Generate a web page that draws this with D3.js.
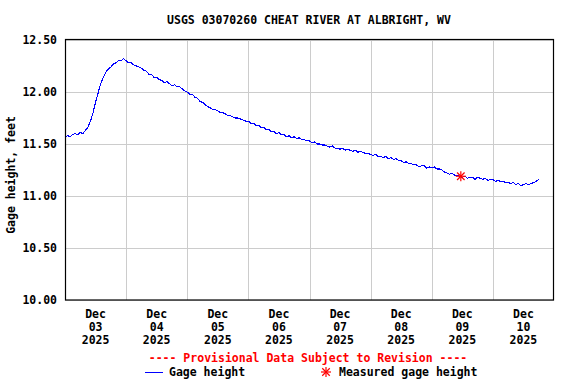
<!DOCTYPE html>
<html>
<head>
<meta charset="utf-8">
<script src="https://cdn.jsdelivr.net/npm/d3@7"></script>
<style>
	body { margin: 0; background: #fff; }
	text { font-family: "DejaVu Sans Mono", monospace; font-weight: bold; }
</style>
</head>
<body>
<script>
var chartTitle = "USGS 03070260 CHEAT RIVER AT ALBRIGHT, WV";
var yLabel = "Gage height, feet";
var yTicks = [10.0, 10.5, 11.0, 11.5, 12.0, 12.5];
var dayLabels = ["03", "04", "05", "06", "07", "08", "09", "10"];

// hourly gage height readings (ft), starting Dec 03 00:00
var gageDec03 = [11.56,11.58,11.57,11.59,11.60,11.59,11.61,11.60,11.63,11.66,11.72,11.80,11.90,11.99,12.08,12.14,12.19,12.22,12.24,12.27,12.28,12.30,12.30,12.32];
var gageDec04 = [12.30,12.28,12.28,12.26,12.25,12.24,12.23,12.21,12.20,12.17,12.17,12.14,12.14,12.12,12.11,12.09,12.10,12.08,12.06,12.07,12.05,12.05,12.03,12.01];
var gageDec05 = [12.00,11.98,11.98,11.95,11.94,11.91,11.90,11.88,11.86,11.85,11.83,11.83,11.82,11.80,11.80,11.79,11.77,11.77,11.76,11.75,11.75,11.74,11.73,11.72];
var gageDec06 = [11.72,11.70,11.70,11.68,11.68,11.66,11.66,11.64,11.64,11.62,11.62,11.60,11.61,11.59,11.59,11.57,11.58,11.56,11.57,11.55,11.56,11.54,11.54,11.53];
var gageDec07 = [11.53,11.51,11.52,11.50,11.50,11.49,11.49,11.48,11.47,11.48,11.46,11.46,11.45,11.46,11.44,11.45,11.44,11.43,11.44,11.42,11.43,11.42,11.41,11.41];
var gageDec08 = [11.40,11.39,11.40,11.38,11.38,11.37,11.38,11.36,11.37,11.35,11.36,11.34,11.34,11.32,11.33,11.31,11.31,11.30,11.30,11.28,11.29,11.29,11.27,11.28];
var gageDec09 = [11.27,11.28,11.26,11.26,11.25,11.23,11.22,11.21,11.22,11.20,11.20,11.19,11.18,11.19,11.17,11.18,11.18,11.16,11.18,11.17,11.16,11.17,11.15,11.16];
var gageDec10 = [11.16,11.14,11.15,11.14,11.14,11.13,11.13,11.12,11.13,11.11,11.12,11.10,11.11,11.12,11.11,11.12,11.13,11.14,11.16];

// field measurement
var measuredTime = [2025, 11, 9, 11, 25];
var measuredValue = 11.19;

var width = 576, height = 384,
		plotLeft = 65, plotRight = 554,
		plotTop = 40, plotBottom = 300;

var gage = [].concat(gageDec03, gageDec04, gageDec05, gageDec06, gageDec07, gageDec08, gageDec09, gageDec10);
var series = gage.map(function (v, i) {
	return { t: new Date(2025, 11, 3, i), v: v };
});

var x = d3.scaleTime()
	.domain([new Date(2025, 11, 3), new Date(2025, 11, 11)])
	.range([plotLeft, plotRight]);
var y = d3.scaleLinear()
	.domain([10, 12.5])
	.range([plotBottom, plotTop]);

var svg = d3.select("body").append("svg")
	.attr("width", width)
	.attr("height", height);

svg.append("text")
	.attr("x", 309)
	.attr("y", 24)
	.attr("text-anchor", "middle")
	.style("font-size", "11.5px")
	.text(chartTitle);

// grid
var gridDays = d3.timeDay.range(new Date(2025, 11, 4), new Date(2025, 11, 11));
svg.append("g").selectAll("line")
	.data(gridDays)
	.enter().append("line")
	.attr("x1", function (d) { return Math.round(x(d)) + 0.5; })
	.attr("x2", function (d) { return Math.round(x(d)) + 0.5; })
	.attr("y1", plotTop)
	.attr("y2", plotBottom)
	.attr("stroke", "#cccccc");

svg.append("g").selectAll("line")
	.data(yTicks)
	.enter().append("line")
	.attr("x1", plotLeft)
	.attr("x2", plotRight)
	.attr("y1", function (d) { return Math.round(y(d)) + 0.5; })
	.attr("y2", function (d) { return Math.round(y(d)) + 0.5; })
	.attr("stroke", "#cccccc");

// y tick labels
svg.append("g").selectAll("text")
	.data(yTicks)
	.enter().append("text")
	.attr("x", 57)
	.attr("y", function (d) { return y(d) + 4; })
	.attr("text-anchor", "end")
	.style("font-size", "11.5px")
	.text(function (d) { return d.toFixed(2); });

svg.append("text")
	.attr("transform", "translate(15,175) rotate(-90)")
	.attr("text-anchor", "middle")
	.style("font-size", "11.5px")
	.text(yLabel);

// x labels at noon of each day
var xLab = svg.append("g").selectAll("text")
	.data(dayLabels)
	.enter().append("text")
	.attr("text-anchor", "middle")
	.style("font-size", "11.5px")
	.attr("transform", function (d, i) {
		return "translate(" + x(new Date(2025, 11, 3 + i, 12)) + ",0)";
	});
xLab.append("tspan").attr("x", 0).attr("y", 318).text("Dec");
xLab.append("tspan").attr("x", 0).attr("y", 331).text(function (d) { return d; });
xLab.append("tspan").attr("x", 0).attr("y", 344).text("2025");

// data line
var line = d3.line()
	.x(function (d) { return x(d.t); })
	.y(function (d) { return y(d.v); });

svg.append("path")
	.datum(series)
	.attr("d", line)
	.attr("fill", "none")
	.attr("stroke", "#0000ff")
	.attr("stroke-width", 1.1)
	.attr("shape-rendering", "crispEdges");

function star(g, cx, cy, r) {
	[[0, -r, 0, r], [-r, 0, r, 0], [-r * 0.75, -r * 0.75, r * 0.75, r * 0.75], [-r * 0.75, r * 0.75, r * 0.75, -r * 0.75]]
		.forEach(function (s) {
			g.append("line")
				.attr("x1", cx + s[0]).attr("y1", cy + s[1])
				.attr("x2", cx + s[2]).attr("y2", cy + s[3])
				.attr("stroke", "#ff0000")
				.attr("stroke-width", 1.2);
		});
}

var mt = new Date(measuredTime[0], measuredTime[1], measuredTime[2], measuredTime[3], measuredTime[4]);
star(svg.append("g"), x(mt), y(measuredValue), 5);

// frame
svg.append("rect")
	.attr("x", plotLeft + 0.5)
	.attr("y", plotTop - 0.5)
	.attr("width", plotRight - plotLeft - 1)
	.attr("height", plotBottom - plotTop + 0.5)
	.attr("fill", "none")
	.attr("stroke", "#000")
	.attr("stroke-width", 1.2);

// legend
svg.append("text")
	.attr("x", 308)
	.attr("y", 362)
	.attr("text-anchor", "middle")
	.attr("fill", "#ff0000")
	.style("font-size", "11.5px")
	.text("---- Provisional Data Subject to Revision ----");

svg.append("line")
	.attr("x1", 145).attr("x2", 163)
	.attr("y1", 372.5).attr("y2", 372.5)
	.attr("stroke", "#0000ff");
svg.append("text")
	.attr("x", 169)
	.attr("y", 376)
	.style("font-size", "11.5px")
	.text("Gage height");

star(svg.append("g"), 326, 372, 5);
svg.append("text")
	.attr("x", 339)
	.attr("y", 376)
	.style("font-size", "11.5px")
	.text("Measured gage height");
</script>
</body>
</html>
